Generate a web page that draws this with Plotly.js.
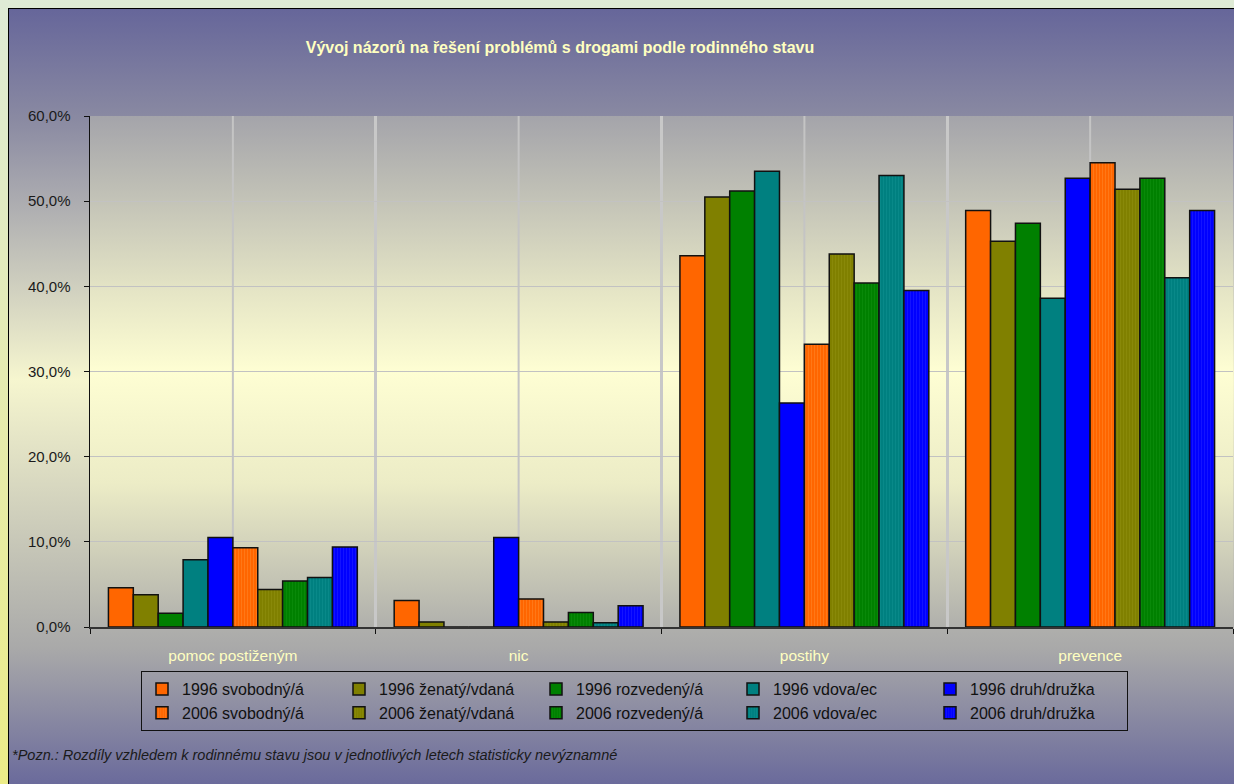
<!DOCTYPE html>
<html>
<head>
<meta charset="utf-8">
<script src="https://cdn.plot.ly/plotly-3.0.1.min.js"></script>
<style>
  html, body { margin:0; padding:0; width:1234px; height:784px; overflow:hidden; }
  body { background: linear-gradient(to bottom, #dfebd6 0%, #e4ebb8 40%, #ecec88 100%); position:relative; }
  #panel { position:absolute; left:8px; top:8px; width:1240px; height:790px; box-sizing:border-box;
    border-left:1px solid #000; border-top:1px solid #000;
    background: linear-gradient(to bottom, #66669a 0%, #8a8aa2 14%, #f6f6cf 47%, #a9a9a9 81%, #64649a 100%); }
  #plotbg { position:absolute; left:90px; top:116px; width:1143px; height:511px;
    background: linear-gradient(to bottom, #a4a4aa 0%, #e6e6c6 35%, #fefed3 50%, #ececc6 72%, #b0b0ac 100%); }
  #chart { position:absolute; left:0; top:0; width:1234px; height:784px; }
</style>
</head>
<body>
<div id="panel"></div>
<div id="plotbg"></div>
<div id="chart"></div>
<script>
const categories = ['pomoc postiženým', 'nic', 'postihy', 'prevence'];

const seriesNames = [
  '1996 svobodný/á', '1996 ženatý/vdaná', '1996 rozvedený/á', '1996 vdova/ec', '1996 druh/družka',
  '2006 svobodný/á', '2006 ženatý/vdaná', '2006 rozvedený/á', '2006 vdova/ec', '2006 druh/družka'
];

const v1996_svobodny  = [4.6, 3.1, 43.6, 48.9];
const v1996_zenaty    = [3.8, 0.6, 50.5, 45.3];
const v1996_rozvedeny = [1.6, 0.0, 51.2, 47.4];
const v1996_vdova     = [7.9, 0.0, 53.5, 38.6];
const v1996_druh      = [10.5, 10.5, 26.3, 52.7];
const v2006_svobodny  = [9.3, 3.3, 33.2, 54.5];
const v2006_zenaty    = [4.4, 0.6, 43.8, 51.4];
const v2006_rozvedeny = [5.4, 1.7, 40.4, 52.7];
const v2006_vdova     = [5.8, 0.5, 53.0, 41.0];
const v2006_druh      = [9.4, 2.5, 39.5, 48.9];

const seriesValues = [
  v1996_svobodny, v1996_zenaty, v1996_rozvedeny, v1996_vdova, v1996_druh,
  v2006_svobodny, v2006_zenaty, v2006_rozvedeny, v2006_vdova, v2006_druh
];

const colors = ['#ff6600', '#808000', '#008000', '#008080', '#0000ff',
                '#ff6600', '#808000', '#008000', '#008080', '#0000ff'];
const stripeColors = ['', '', '', '', '', '#ff7a1a', '#8a8a0a', '#0a8a0a', '#0a8a8a', '#1515ff'];

const traces = seriesNames.map((name, i) => {
  const marker = { color: colors[i], line: { color: '#111111', width: 1.5 } };
  if (i >= 5) {
    marker.pattern = { shape: '|', size: 3, solidity: 0.3, fgcolor: stripeColors[i], bgcolor: colors[i], fgopacity: 1 };
  }
  return { type: 'bar', name: name, x: categories, y: seriesValues[i], marker: marker, hoverinfo: 'skip' };
});

// midpoint vertical gridlines at category centres
const shapes = categories.map(c => ({
  type: 'line', xref: 'x', yref: 'paper', x0: c, x1: c, y0: 0, y1: 1,
  line: { color: '#c4c4c4', width: 2 }, layer: 'below'
}));

const layout = {
  width: 1234, height: 784,
  margin: { l: 90, r: 1, t: 116, b: 157 },
  paper_bgcolor: 'rgba(0,0,0,0)',
  plot_bgcolor: 'rgba(0,0,0,0)',
  separators: ', ',
  font: { family: 'Liberation Sans, Arial, sans-serif', size: 15, color: '#111111' },
  barmode: 'group',
  bargap: 0.129,
  bargroupgap: 0,
  showlegend: true,
  title: {
    text: '<b>Vývoj názorů na řešení problémů s drogami podle rodinného stavu</b>',
    font: { family: 'Liberation Sans, Arial, sans-serif', size: 16, color: '#ffffc0' },
    x: 560 / 1234, xref: 'container', xanchor: 'center',
    y: 1 - 47 / 784, yref: 'container', yanchor: 'middle'
  },
  xaxis: {
    type: 'category',
    tickson: 'boundaries',
    ticks: 'outside', ticklen: 5, tickcolor: '#111', tickwidth: 1,
    showgrid: true, gridcolor: '#c8c8c8', gridwidth: 3,
    showline: true, linecolor: '#333333', linewidth: 1.5,
    tickfont: { family: 'Liberation Sans, Arial, sans-serif', size: 15.5, color: '#ffffc0' },
    ticklabelstandoff: 14,
    fixedrange: true
  },
  yaxis: {
    range: [0, 60], dtick: 10, tick0: 0,
    tickformat: '.1f', ticksuffix: '%',
    ticks: 'outside', ticklen: 5, tickcolor: '#111', tickwidth: 1,
    showgrid: true, gridcolor: '#c2c2c2', gridwidth: 1,
    zeroline: false,
    showline: true, linecolor: '#111111', linewidth: 1.5,
    tickfont: { family: 'Liberation Sans, Arial, sans-serif', size: 15, color: '#1a1a1a' },
    ticklabelstandoff: 10,
    fixedrange: true
  },
  legend: {
    orientation: 'h',
    xref: 'container', yref: 'container',
    x: 141 / 1234, xanchor: 'left',
    y: 1 - 671 / 784, yanchor: 'top',
    entrywidth: 152, entrywidthmode: 'pixels',
    bgcolor: 'rgba(0,0,0,0)', bordercolor: '#111111', borderwidth: 1,
    font: { family: 'Liberation Sans, Arial, sans-serif', size: 16, color: '#111111' },
    itemwidth: 30,
    traceorder: 'normal'
  },
  shapes: shapes,
  annotations: [{
    text: '<i>*Pozn.: Rozdíly vzhledem k rodinnému stavu jsou v jednotlivých letech statisticky nevýznamné</i>',
    xref: 'paper', yref: 'paper',
    x: (10 - 90) / 1143, xanchor: 'left',
    y: (627 - 755) / 511, yanchor: 'middle',
    showarrow: false,
    font: { family: 'Liberation Sans, Arial, sans-serif', size: 14.5, color: '#1a1a1a' }
  }]
};

Plotly.newPlot('chart', traces, layout, { displayModeBar: false, staticPlot: true });
</script>
</body>
</html>
